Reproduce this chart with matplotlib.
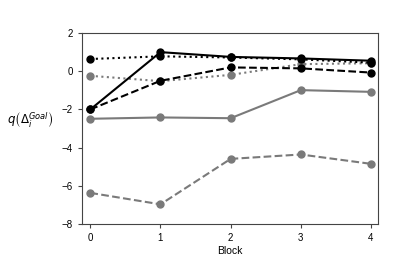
import matplotlib
matplotlib.use("Agg")
import matplotlib.pyplot as plt

plt.rcParams['font.family'] = ['Liberation Sans', 'DejaVu Sans']
plt.rcParams['mathtext.fontset'] = 'dejavusans'

blocks = [0, 1, 2, 3, 4]

black_solid = [-2.0, 1.0, 0.75, 0.67, 0.55]
black_dotted = [0.64, 0.78, 0.72, 0.62, 0.45]
black_dashed = [-2.0, -0.5, 0.2, 0.15, -0.07]
gray_dotted = [-0.24, -0.52, -0.19, 0.37, 0.42]
gray_solid = [-2.49, -2.42, -2.46, -0.99, -1.08]
gray_dashed = [-6.37, -6.97, -4.59, -4.36, -4.85]

gray = '#7a7a7a'

fig = plt.figure(figsize=(4.2, 2.8), dpi=100)
ax = fig.add_axes([0.195, 0.2, 0.705, 0.682])

ax.plot(blocks, gray_dashed, '--', color=gray, marker='o', markersize=5, lw=1.5)
ax.plot(blocks, gray_solid, '-', color=gray, marker='o', markersize=5, lw=1.5)
ax.plot(blocks, gray_dotted, ':', color=gray, marker='o', markersize=5, lw=1.5)
ax.plot(blocks, black_dashed, '--', color='black', marker='o', markersize=5, lw=1.5)
ax.plot(blocks, black_dotted, ':', color='black', marker='o', markersize=5, lw=1.5)
ax.plot(blocks, black_solid, '-', color='black', marker='o', markersize=5, lw=1.5)

ax.set_xlim(-0.12, 4.1)
ax.set_ylim(-8, 2)
ax.set_xticks(blocks)
ax.set_yticks([-8, -6, -4, -2, 0, 2])
ax.tick_params(labelsize=7, length=3, color='#444444')
for s in ax.spines.values():
    s.set_color('#444444')
ax.set_xlabel('Block', fontsize=7.5, labelpad=2)
ax.set_ylabel(r'$q\left(\Delta_i^{Goal}\right)$', fontsize=8.5, rotation=0,
              ha='center', va='center')
ax.yaxis.set_label_coords(-0.176, 0.545)

fig.savefig('out.png', dpi=100)
